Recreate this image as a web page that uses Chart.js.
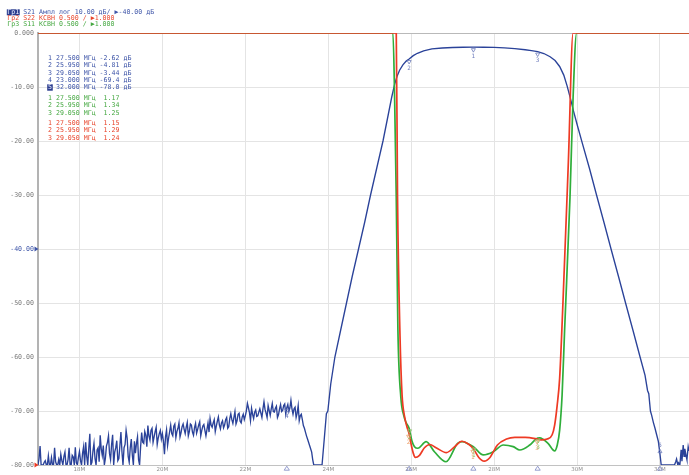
<!DOCTYPE html>
<html>
<head>
<meta charset="utf-8">
<script src="https://cdn.jsdelivr.net/npm/chart.js@4.4.1/dist/chart.umd.min.js"></script>
<style>
  html, body { margin: 0; padding: 0; background: #ffffff; }
  #wrap { width: 689px; height: 475px; }
</style>
</head>
<body>
<div id="wrap"><canvas id="c" width="689" height="475"></canvas></div>
<script>
// ---- Axis setup ----
const freqTicksMHz = [18, 20, 22, 24, 26, 28, 30, 32];
const dbTicks = [0, -10, -20, -30, -40, -50, -60, -70, -80];
const refLevelDb = -40;

// ---- Trace 1: S21, log magnitude (dB) ----
// Sweep below the passband: samples at 17.00 MHz + n * 0.05 MHz ...
const s21LowStartMHz = 17.0;
const s21LowStepMHz = 0.05;
const s21LowDb = [
  -80, -76.5, -80, -79.5, -80, -78.3, -80, -80, -76.8, -80,
  -79, -78, -80, -77.6, -80, -76.8, -80, -78.5, -76.7, -80,
  -77.5, -80, -76.6, -75.8, -80, -74.2, -79.5, -76, -80, -76.8,
  -74.5, -78.2, -80, -76.5, -74.6, -79, -74.4, -77.6, -75.5, -78.8,
  -73.9, -80, -76.2, -75, -79.5, -75.2, -80, -77.8, -74.8, -80,
  -74, -76, -74.5, -72.7, -75.4, -73.2, -74.8, -73, -75, -73.6,
  -74.2, -78, -73.5, -75, -72.6, -74.6, -72.4, -73.8, -72.2, -74,
  -72.4, -74.2, -72.1, -73.8, -72.6, -74.5, -72.3, -73.4, -72.0, -73.6,
  -72.5, -74.6, -72.2, -71.4, -73.0, -71.6, -72.8, -71.1, -73.3, -71.8,
  -72.6, -71.2, -72.9, -70.5, -72.3, -70.1, -71.8, -70.4, -72.2, -70.6,
  -70.9, -68.6, -70.3, -69.5, -71.4, -69.8, -70.9, -69.6, -71.2, -68.3,
  -70.4, -69.0, -70.8, -68.6, -70.2, -69.1, -70.7, -68.8, -69.9, -68.7,
  -69.4, -70.1, -68.0, -70.6, -69.3, -70.4, -71.8, -70.6, -72.7, -73.9,
  -75.2, -76.4, -77.6, -80, -80, -80, -80
];
// ... and the samples halfway between them (17.025 MHz + n * 0.05 MHz)
const s21LowMidDb = [
  -78.8, -80, -80, -79.2, -80, -80, -78.6, -80, -79.4, -80,
  -80, -79.2, -78.4, -80, -79, -80, -78.2, -80, -79.6, -78.6,
  -79.2, -77.8, -80, -78.4, -76.9, -80, -77.4, -78.8, -77.2, -79.4,
  -77, -76.4, -78.8, -75.8, -77.9, -76.2, -80, -76.8, -79.2, -76.4,
  -77.6, -76.8, -73.6, -78.4, -76.8, -78.2, -75.6, -76, -79, -76.6,
  -75.8, -73.8, -76.6, -74.6, -73.6, -75.8, -73.8, -76.2, -74.2, -75.2,
  -75.6, -74.8, -76.4, -73.8, -74.2, -72.8, -74.9, -73.2, -74.8, -72.9,
  -73.4, -73.0, -74.6, -72.4, -73.9, -73.1, -74.1, -72.6, -74.6, -72.8,
  -73.6, -73.4, -73.9, -72.6, -72.2, -73.8, -71.9, -72.6, -72.2, -73.1,
  -71.6, -73.2, -71.4, -71.6, -71.2, -72.4, -70.6, -71.9, -71.1, -71.6,
  -70.0, -69.4, -71.8, -70.6, -70.2, -71.0, -70.2, -70.4, -69.6, -69.7,
  -71.2, -69.9, -69.6, -70.1, -69.5, -71.2, -69.6, -70.1, -69.0, -70.6,
  -68.8, -69.4, -69.6, -69.6, -71.2, -69.0, -70.9, -71.6, -73.2, -74.6,
  -75.8, -77.0, -79.0, -80, -80, -80
];
// Skirts and passband
const s21BandMHz = [
  23.85, 23.90, 23.955, 23.99, 24.06, 24.16, 24.30, 24.44, 24.58, 24.73,
  24.88, 25.02, 25.17, 25.32, 25.45, 25.53, 25.60, 25.66, 25.72, 25.80,
  25.88, 25.95, 26.05, 26.15, 26.30, 26.50, 26.75, 27.00, 27.25, 27.50,
  27.75, 28.00, 28.25, 28.50, 28.75, 28.90, 29.05, 29.20, 29.35, 29.47,
  29.58, 29.68, 29.76, 29.84, 29.92, 30.00, 30.12, 30.30, 30.47, 30.65,
  30.82, 31.00, 31.17, 31.35, 31.52, 31.64, 31.70, 31.73, 31.77, 31.80,
  31.84, 31.88, 31.92, 31.96, 32.00, 32.03
];
const s21BandDb = [
  -80, -75.5, -70.5, -70, -65, -60, -55, -50, -45, -40,
  -35, -30, -25, -20, -15, -11.9, -9.5, -8.0, -6.9, -5.9,
  -5.2, -4.81, -4.2, -3.75, -3.3, -2.95, -2.78, -2.68, -2.63, -2.62,
  -2.63, -2.67, -2.76, -2.9, -3.1, -3.25, -3.44, -3.8, -4.4, -5.1,
  -6.2, -7.8, -9.8, -12.1, -14.6, -16.9, -20.2, -25.1, -30, -35.1,
  -40, -45.1, -50, -55.1, -60, -63.4, -66.2, -66.8, -70, -70.8,
  -72.1, -73.2, -74.4, -75.6, -78.0, -80
];
// Above the passband
const s21HighMHz = [32.06, 32.10, 32.15, 32.20, 32.25, 32.30, 32.35, 32.38, 32.40, 32.43,
  32.45, 32.48, 32.51, 32.53, 32.56, 32.58, 32.60, 32.63, 32.65, 32.68, 32.70];
const s21HighDb = [-80, -80, -80, -80, -80, -80, -80, -79.4, -78.9, -80,
  -79.6, -80, -77.2, -79.3, -76.3, -78.4, -77.0, -78.3, -79.0, -76.6, -77.4];

// ---- Trace 2: S22, VSWR ----
const s22MHz = [17.0, 25.64, 25.67, 25.73, 25.78, 25.84, 25.90, 25.95, 26.00, 26.05,
  26.10, 26.20, 26.32, 26.45, 26.60, 26.85, 27.05, 27.22, 27.38, 27.50,
  27.63, 27.76, 27.90, 28.08, 28.30, 28.50, 28.75, 29.05, 29.15, 29.28,
  29.40, 29.46, 29.52, 29.58, 29.66, 29.79, 29.905, 32.7];
const s22Vswr = [5, 5, 3.5, 2.2, 1.65, 1.45, 1.35, 1.29, 1.19, 1.11,
  1.07, 1.09, 1.16, 1.19, 1.16, 1.115, 1.17, 1.22, 1.195, 1.15,
  1.07, 1.035, 1.07, 1.185, 1.24, 1.255, 1.255, 1.24, 1.232, 1.24,
  1.28, 1.37, 1.55, 1.8, 2.5, 3.8, 5, 5];

// ---- Trace 3: S11, VSWR ----
const s11MHz = [17.0, 25.56, 25.60, 25.64, 25.68, 25.75, 25.82, 25.88, 25.95, 26.02,
  26.08, 26.16, 26.36, 26.56, 26.84, 27.12, 27.24, 27.38, 27.50, 27.74,
  27.98, 28.22, 28.46, 28.62, 28.86, 29.05, 29.10, 29.30, 29.46, 29.52,
  29.58, 29.64, 29.70, 29.83, 29.905, 29.99, 32.7];
const s11Vswr = [5, 5, 4.41, 3.48, 2.25, 1.63, 1.46, 1.39, 1.34, 1.22,
  1.17, 1.155, 1.216, 1.123, 1.03, 1.20, 1.216, 1.195, 1.17, 1.093,
  1.123, 1.185, 1.17, 1.139, 1.185, 1.25, 1.252, 1.2, 1.13, 1.18,
  1.32, 1.65, 2.25, 3.48, 4.41, 5, 5];

// ---- Markers ----
const markerMHz = [27.5, 25.95, 29.05, 23.0, 32.0];
const s21MarkerDb = [-2.62, -4.81, -3.44, -69.4, -78.0];
const s11MarkerVswr = [1.17, 1.34, 1.25];
const s22MarkerVswr = [1.15, 1.29, 1.24];

// ---- Colours ----
const blueTrace = '#2a4299';
const redTrace = '#ee3a24';
const greenTrace = '#2fae3a';
const blueText = '#3e55a8';
const redText = '#e8452c';
const greenText = '#46a842';
const grayText = '#7c7c7c';
const mono = '"DejaVu Sans Mono", "Liberation Mono", monospace';

function pairs(xs, ys) { return xs.map((x, i) => ({ x: x, y: ys[i] })); }

// Interleave the two low-band sample sets into one sweep
const s21LowPoints = [];
s21LowDb.forEach((v, i) => {
  const f = s21LowStartMHz + i * s21LowStepMHz;
  s21LowPoints.push({ x: +f.toFixed(3), y: v });
  if (i < s21LowMidDb.length) {
    s21LowPoints.push({ x: +(f + s21LowStepMHz / 2).toFixed(3), y: s21LowMidDb[i] });
  }
});
const s21Points = s21LowPoints
  .concat(pairs(s21BandMHz, s21BandDb))
  .concat(pairs(s21HighMHz, s21HighDb));

function fmtDb(v) { return (Math.abs(v) >= 10 ? v.toFixed(1) : v.toFixed(2)).padStart(5, ' '); }

function markerGlyph(ctx, x, y, label, color, above) {
  ctx.save();
  ctx.strokeStyle = color; ctx.fillStyle = color; ctx.lineWidth = 0.8;
  const dir = above ? -1 : 1;
  ctx.beginPath();
  ctx.moveTo(x - 2, y + dir * 1.5);
  ctx.lineTo(x + 2, y + dir * 1.5);
  ctx.lineTo(x, y + dir * 5);
  ctx.closePath();
  ctx.stroke();
  ctx.font = '6px ' + mono;
  ctx.textAlign = 'center'; ctx.textBaseline = 'middle';
  ctx.fillText(label, x, y + dir * 9);
  ctx.restore();
}

const overlay = {
  id: 'overlay',
  beforeDatasetsDraw(chart) {
    const { ctx, chartArea: a } = chart;
    ctx.save();
    ctx.strokeStyle = '#b9b9b9'; ctx.lineWidth = 1;
    ctx.beginPath(); ctx.moveTo(a.left, a.top + 0.5); ctx.lineTo(a.right, a.top + 0.5); ctx.stroke();
    ctx.restore();
  },
  afterDraw(chart) {
    const { ctx, chartArea: a } = chart;
    const xs = chart.scales.x, yd = chart.scales.y, yv = chart.scales.yv;
    ctx.save();
    ctx.font = '6.6px ' + mono;
    ctx.textBaseline = 'middle'; ctx.textAlign = 'left';
    const cw = ctx.measureText('0').width;

    // Trace headers
    const headers = [
      { tag: 'Гр1', rest: ' S21 Ампл лог 10.00 дБ/ ▶-40.00 дБ', color: blueText, y: 12.3, boxed: true },
      { tag: 'Гр2', rest: ' S22 КСВН 0.500 / ▶1.000', color: redText, y: 18.3 },
      { tag: 'Гр3', rest: ' S11 КСВН 0.500 / ▶1.000', color: greenText, y: 24.3 }
    ];
    const hx = 7.3;
    headers.forEach(h => {
      if (h.boxed) {
        ctx.fillStyle = '#2c3e8f';
        ctx.fillRect(hx - 0.5, h.y - 3, cw * 3 + 1, 6);
        ctx.fillStyle = '#e8ecff';
      } else {
        ctx.fillStyle = h.color;
      }
      ctx.fillText(h.tag, hx, h.y);
      ctx.fillStyle = h.color;
      ctx.fillText(h.rest, hx + cw * 3, h.y);
    });

    // Marker readouts
    const tx = 48;
    markerMHz.forEach((f, i) => {
      const y = 58.3 + i * 7.3;
      const line = (i + 1) + ' ' + f.toFixed(3) + ' МГц ' + fmtDb(s21MarkerDb[i]) + ' дБ';
      if (i === markerMHz.length - 1) {
        ctx.fillStyle = '#2c3e8f';
        ctx.fillRect(tx - 0.8, y - 3.2, cw + 1.6, 6.4);
        ctx.fillStyle = '#e8ecff';
        ctx.fillText(String(i + 1), tx, y);
        ctx.fillStyle = blueText;
        ctx.fillText(line.slice(1), tx + cw, y);
      } else {
        ctx.fillStyle = blueText;
        ctx.fillText(line, tx, y);
      }
    });
    s11MarkerVswr.forEach((v, i) => {
      ctx.fillStyle = greenText;
      ctx.fillText((i + 1) + ' ' + markerMHz[i].toFixed(3) + ' МГц ' + v.toFixed(2).padStart(5, ' '), tx, 97.8 + i * 7.5);
    });
    s22MarkerVswr.forEach((v, i) => {
      ctx.fillStyle = redText;
      ctx.fillText((i + 1) + ' ' + markerMHz[i].toFixed(3) + ' МГц ' + v.toFixed(2).padStart(5, ' '), tx, 122.8 + i * 7.5);
    });

    // Reference level pointers on the left axis
    const refPtr = (y, color) => {
      ctx.fillStyle = color;
      ctx.beginPath(); ctx.moveTo(34.5, y - 2.6); ctx.lineTo(38.5, y); ctx.lineTo(34.5, y + 2.6); ctx.closePath(); ctx.fill();
    };
    refPtr(yd.getPixelForValue(refLevelDb), blueText);
    refPtr(yv.getPixelForValue(1.0), redTrace);

    // Marker glyphs on the traces
    markerMHz.forEach((f, i) => {
      const px = xs.getPixelForValue(f);
      markerGlyph(ctx, px, yd.getPixelForValue(s21MarkerDb[i]), String(i + 1), '#6f7dbd', i === 4);
    });
    s22MarkerVswr.forEach((v, i) => {
      markerGlyph(ctx, xs.getPixelForValue(markerMHz[i]) - 0.5, yv.getPixelForValue(v), String(i + 1), '#eca068', false);
    });
    s11MarkerVswr.forEach((v, i) => {
      markerGlyph(ctx, xs.getPixelForValue(markerMHz[i]) + 0.5, yv.getPixelForValue(v), String(i + 1), '#90c46c', false);
    });

    // Marker positions along the frequency axis
    ctx.strokeStyle = '#8a94c9'; ctx.lineWidth = 0.9;
    markerMHz.forEach(f => {
      const px = xs.getPixelForValue(f);
      ctx.beginPath();
      ctx.moveTo(px, a.bottom + 1.2); ctx.lineTo(px + 2.6, a.bottom + 5.2); ctx.lineTo(px - 2.6, a.bottom + 5.2); ctx.closePath();
      ctx.stroke();
    });
    ctx.restore();
  }
};

new Chart(document.getElementById('c'), {
  type: 'line',
  data: {
    datasets: [
      { label: 'S22', data: pairs(s22MHz, s22Vswr), yAxisID: 'yv', borderColor: redTrace, borderWidth: 1.7,
        pointRadius: 0, cubicInterpolationMode: 'monotone', fill: false },
      { label: 'S11', data: pairs(s11MHz, s11Vswr), yAxisID: 'yv', borderColor: greenTrace, borderWidth: 1.7,
        pointRadius: 0, cubicInterpolationMode: 'monotone', fill: false },
      { label: 'S21', data: s21Points, yAxisID: 'y', borderColor: blueTrace, borderWidth: 1.35,
        pointRadius: 0, tension: 0, fill: false }
    ]
  },
  options: {
    responsive: false,
    devicePixelRatio: 1,
    animation: false,
    events: [],
    layout: { padding: { top: 33, left: 0, right: 0, bottom: 0 } },
    plugins: { legend: { display: false }, tooltip: { enabled: false } },
    scales: {
      x: {
        type: 'linear', min: 17, max: 32.7,
        afterBuildTicks: s => { s.ticks = freqTicksMHz.map(v => ({ value: v })); },
        afterFit: s => { s.height = 10; },
        grid: { color: '#e4e4e4', lineWidth: 1, drawTicks: false },
        border: { color: '#c2c2c2', width: 1 },
        ticks: { autoSkip: false, maxRotation: 0, padding: 1.5, color: '#8e8e8e',
          font: { family: 'DejaVu Sans', size: 5.5 }, callback: v => v + 'M' }
      },
      y: {
        type: 'linear', position: 'left', min: -80, max: 0,
        afterBuildTicks: s => { s.ticks = dbTicks.map(v => ({ value: v })); },
        afterFit: s => { s.width = 38; },
        grid: { color: '#e4e4e4', lineWidth: 1, drawTicks: false },
        border: { color: '#b3b3b3', width: 2 },
        ticks: { padding: 4, font: { family: 'DejaVu Sans Mono', size: 6.6 },
          color: c => (c.tick && c.tick.value === refLevelDb) ? blueText : grayText,
          callback: v => v === 0 ? '0.000' : v.toFixed(2) }
      },
      yv: { type: 'linear', min: 1, max: 5, display: false }
    }
  },
  plugins: [overlay]
});
</script>
</body>
</html>
